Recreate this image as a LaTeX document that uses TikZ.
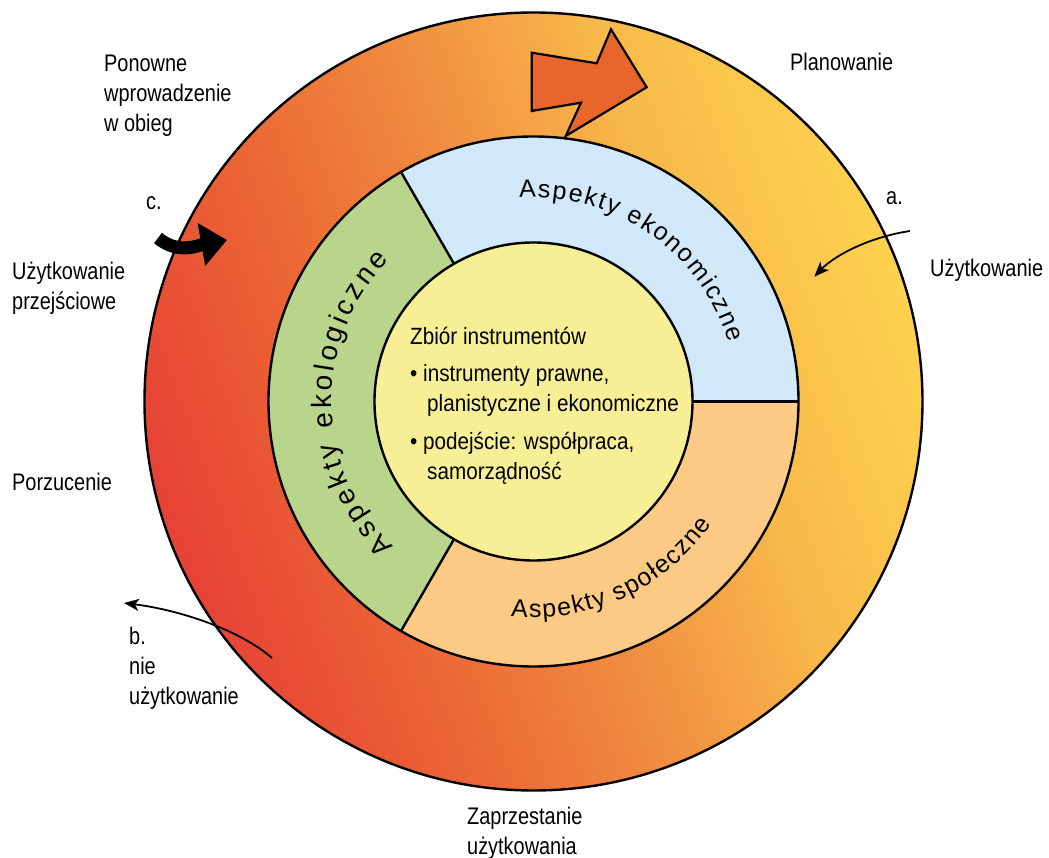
\documentclass[tikz,border=0pt]{standalone}
\usepackage{fontspec}
\setmainfont{Liberation Sans}
\newfontfamily\narrowFamily[FakeStretch=0.83]{Liberation Sans}
\newfontfamily\coreFamily[FakeStretch=0.88]{Liberation Sans}
\usepackage{xcolor}
\definecolor{ringRed}{HTML}{E64236}
\definecolor{ringOrange}{HTML}{EB6334}
\definecolor{ringAmber}{HTML}{F08D40}
\definecolor{ringGold}{HTML}{F8B94A}
\definecolor{ringYellow}{HTML}{FDD24F}
\definecolor{ecoBlue}{HTML}{D0E8F8}
\definecolor{ecoGreen}{HTML}{B9D48B}
\definecolor{socOrange}{HTML}{FDCA86}
\definecolor{coreYellow}{HTML}{F7EF96}
\definecolor{arrowOrange}{HTML}{E8652B}
\usepackage{tikz}
\usetikzlibrary{
    arrows.meta,
    decorations.text,
    positioning
}
\newcommand{\sideFont}{\narrowFamily\fontsize{24}{30}\selectfont}
\newcommand{\coreFont}{\coreFamily\fontsize{23.5}{30}\selectfont}
\newcommand{\arcFont}{\fontsize{25}{30}\selectfont}
\newcommand{\arcFontBig}{\fontsize{28}{32}\selectfont}
\pgfdeclarehorizontalshading{ringShade}{100bp}{color(0bp)=(ringRed); color(25bp)=(ringRed); color(37bp)=(ringOrange); color(50bp)=(ringAmber); color(62bp)=(ringGold); color(75bp)=(ringYellow); color(100bp)=(ringYellow)}
\tikzset{
    % black outlines of rings and sectors
    ring line/.style={
        draw=black,
        line width=2.4pt,
    },
    % plain text round the ring (anchored on its last line)
    side text/.style={
        font=\sideFont,
        align=left,
        anchor=base west,
        inner sep=0pt,
    },
    % thin curved arrows a. and b.
    thin arrow/.style={
        -{Stealth[length=15pt, width=12pt, inset=4pt]},
        line width=1.8pt,
    },
    % thick black arrow c.
    swoosh/.style={
        -{Triangle[length=26pt, width=42pt]},
        line width=13pt,
    },
    % big orange arrow on top
    block arrow/.style={
        fill=arrowOrange,
        draw=black,
        line width=2.2pt,
        line join=miter,
    },
    % text bent round a sector
    arc text/.style={
        decorate,
        decoration={text along path, text align=fit to path, text={#1}},
    },
}

\begin{document}
\begin{tikzpicture}[x=1pt, y=1pt]
    \useasboundingbox[fill=white] (-533.5,-456.5) rectangle (515.5,401.5);

    % outer ring
    \path[shading=ringShade, shading angle=20] (0,0) circle[radius=389];
    \draw[ring line] (0,0) circle[radius=389];

    % three aspects
    \fill[ecoBlue] (0,0) -- (0:265) arc[start angle=0, end angle=120, radius=265] -- cycle;
    \fill[ecoGreen] (0,0) -- (120:265) arc[start angle=120, end angle=240, radius=265] -- cycle;
    \fill[socOrange] (0,0) -- (240:265) arc[start angle=240, end angle=360, radius=265] -- cycle;
    \foreach \ang in {0,120,240}
        \draw[ring line] (\ang:159) -- (\ang:265);
    \draw[ring line] (0,0) circle[radius=265];
    \draw[ring line, fill=coreYellow] (0,0) circle[radius=159];

    \path[arc text={|\arcFont|Aspekty ekonomiczne}] (94:204) arc[start angle=94, end angle=16.8, radius=204];
    \path[arc text={|\arcFontBig|Aspekty ekologiczne}] (226:202) arc[start angle=226, end angle=135.5, radius=202];
    \path[arc text={|\arcFont|Aspekty społeczne}] (264:216) arc[start angle=264, end angle=325.5, radius=216];

    % centre text
    \node (tools) [side text, font=\coreFont] at (-123.5,-78.5)
        {Zbiór instrumentów\\[7pt]
         • instrumenty prawne,\\
         \hspace*{17pt}planistyczne i ekonomiczne\\[8pt]
         • podejście: współpraca,\\
         \hspace*{17pt}samorządność};

    % big arrow
    \draw[block arrow] (-1.8,348.8) -- (63.2,338.2) -- (77.5,372.2) -- (113.2,314.2)
        -- (32.2,265.5) -- (47.5,298.8) -- (-1.8,290.5) -- cycle;

    % labels round the ring
    \node (reuse) [side text] at (-429.5,269.5) {Ponowne\\wprowadzenie\\w obieg};
    \node (plan) [side text] at (256.5,330.5) {Planowanie};
    \node (markA) [side text] at (352.5,196.5) {a.};
    \node (use) [side text] at (396.5,124.5) {Użytkowanie};
    \node (markC) [side text] at (-387.5,191.5) {c.};
    \node (interim) [side text] at (-521.5,91.5) {Użytkowanie\\przejściowe};
    \node (abandon) [side text] at (-521.5,-89.5) {Porzucenie};
    \node (disuse) [side text] at (-404.5,-303.5) {b.\\nie\\użytkowanie};
    \node (cease) [side text] at (-66.5,-452.5) {Zaprzestanie\\użytkowania};

    % arrows a., b., c.
    \coordinate (aStart) at (376.5,170.5);
    \coordinate (aEnd) at (280.8,124.8);
    \draw[thin arrow] (aStart) .. controls (336.5,164.5) and (301.5,146.5) .. (aEnd);
    \coordinate (bStart) at (-261.5,-256.5);
    \coordinate (bEnd) at (-409.5,-201.5);
    \draw[thin arrow] (bStart) .. controls (-293.5,-228.5) and (-353.5,-208.5) .. (bEnd);
    \coordinate (cStart) at (-375.5,163.5);
    \coordinate (cEnd) at (-306.5,161.5);
    \draw[swoosh] (cStart) to[out=-40, in=190] (cEnd);
\end{tikzpicture}
\end{document}
